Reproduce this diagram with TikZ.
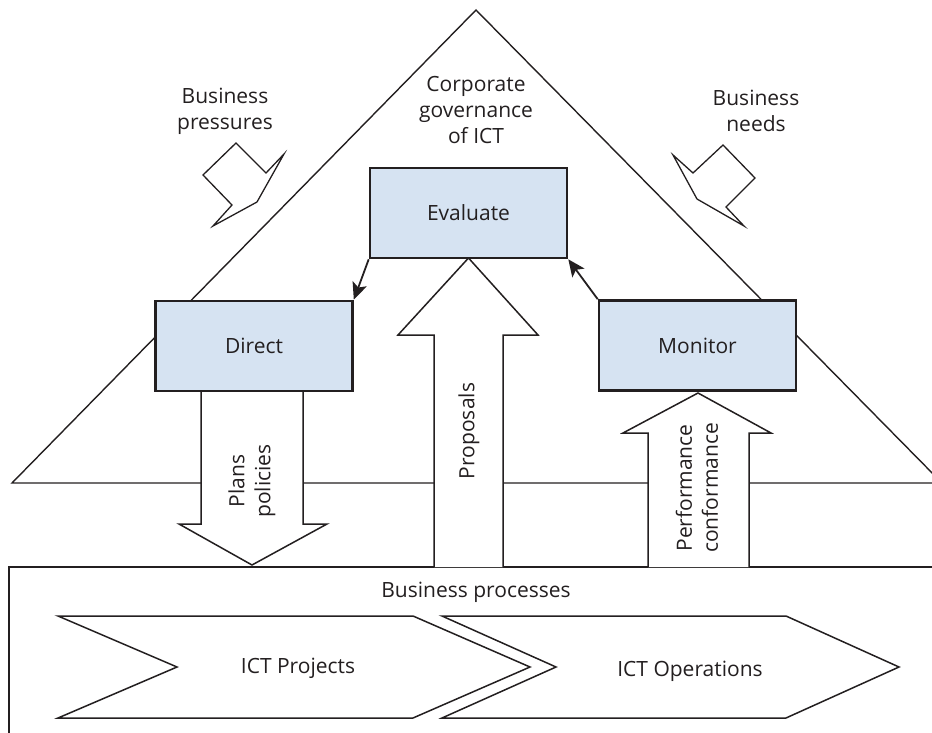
\documentclass[tikz,border=0pt]{standalone}
\usepackage{fontspec}
\setmainfont{Open Sans}
\usepackage{tikz}
\usetikzlibrary{arrows.meta}
\definecolor{boxblue}{RGB}{214,227,242}
\definecolor{ink}{RGB}{35,31,32}

\tikzset{
  govbox/.style={draw=ink,line width=2.6pt,fill=boxblue,minimum width=197pt,minimum height=90pt,text=ink},
  blockarrow/.style={draw=ink,line width=1.5pt,fill=white,line join=miter},
  flow/.style={draw=ink,line width=1.8pt,-{Stealth[length=17pt,width=15pt,inset=4pt]}},
  label/.style={text=ink,align=center},
}

\begin{document}
\begin{tikzpicture}[x=1pt,y=-1pt,font=\fontsize{21}{26}\selectfont]
    \useasboundingbox (0,0) rectangle (932,733);
    \clip (0,0) rectangle (932,733);

    % governance triangle
    \draw[ink,line width=1.4pt] (12,483) -- (476,10) -- (942,483) -- cycle;

    % business processes frame
    \draw[ink,line width=1.4pt] (940,567) -- (9,567) -- (9,740);

    % process chevrons
    \draw[blockarrow] (58,616) -- (413,616) -- (530,667) -- (413,718) -- (58,718) -- (177,667) -- cycle;
    \draw[blockarrow] (442,616) -- (786,616) -- (899,667) -- (786,718) -- (442,718) -- (556,667) -- cycle;

    % block arrows
    \draw[blockarrow] (201,391) -- (201,524) -- (179,524) -- (252,565) -- (327,524) -- (303,524) -- (303,391);
    \draw[blockarrow] (434,567) -- (434,335) -- (398,335) -- (468.5,258) -- (538,335) -- (503,335) -- (503,567);
    \draw[blockarrow] (648,567) -- (648,433) -- (623,433) -- (698,393) -- (771,433) -- (749,433) -- (749,567);

    % pressures and needs
    \draw[blockarrow,line width=1.3pt] (236,143) -- (266,173) -- (284,154) -- (257,202) -- (213,226) -- (232,205) -- (203,175) -- cycle;
    \draw[blockarrow,line width=1.3pt] (723,145) -- (755,178) -- (726,207) -- (744,226) -- (697,199) -- (673,155) -- (693,173) -- cycle;

    % governance boxes
    \node[govbox] (evaluate) at (468.5,213) {Evaluate};
    \node[govbox] (direct) at (254,346) {Direct};
    \node[govbox] (monitor) at (697.5,345.5) {Monitor};

    \draw[flow] (evaluate.south west) -- (direct.north east);
    \draw[flow] (monitor.north west) -- (evaluate.south east);

    % texts
    \node[label] (corporate) at (476,110) {Corporate\\governance\\of ICT};
    \node[label] (pressures) at (225,111) {Business\\pressures};
    \node[label] (needs) at (756,111) {Business\\needs};
    \node[label,rotate=90] (plans) at (252,481) {Plans\\policies};
    \node[label,rotate=90] (proposals) at (469,431) {Proposals};
    \node[label,rotate=90] (performance) at (697,488) {Performance\\conformance};
    \node[label] (processes) at (476,592) {Business processes};
    \node[label] (projects) at (298,668) {ICT Projects};
    \node[label] (operations) at (690,671) {ICT Operations};

\end{tikzpicture}
\end{document}
